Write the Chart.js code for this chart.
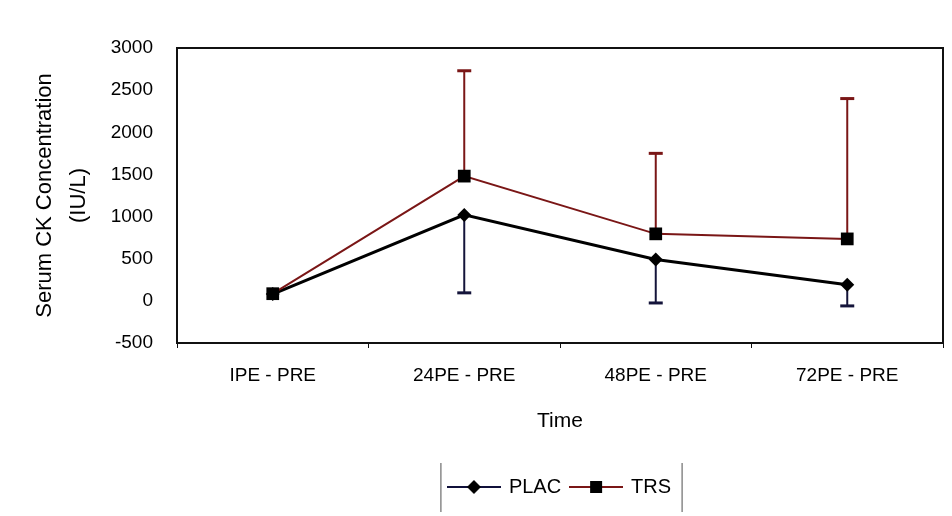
<!DOCTYPE html>
<html>
<head>
<meta charset="utf-8">
<script src="https://cdn.jsdelivr.net/npm/chart.js@4.4.0/dist/chart.umd.min.js"></script>
<style>
  html, body { margin: 0; padding: 0; background: #fff; }
  #caixa { width: 952px; height: 516px; }
</style>
</head>
<body>
<div id="caixa"><canvas id="graficoCK"></canvas></div>
<script>
// dados do CK sérico (média e desvio) por momento
const tempos = ["IPE - PRE", "24PE - PRE", "48PE - PRE", "72PE - PRE"];
const placMedia = [80, 1020, 490, 190];
const placDesvio = [0, 925, 515, 250];
const trsMedia = [85, 1480, 795, 735];
const trsDesvio = [0, 1250, 955, 1665];
const yTicks = [-500, 0, 500, 1000, 1500, 2000, 2500, 3000];

const fonte = "'Liberation Sans', Arial, sans-serif";
const corPlac = '#000000';
const corTrs = '#7a1616';

// icone da legenda: linha com o marcador no meio
function iconeLegenda(corLinha, estilo) {
  const c = document.createElement('canvas');
  c.width = 54; c.height = 16;
  const g = c.getContext('2d');
  g.strokeStyle = corLinha; g.lineWidth = 2;
  g.beginPath(); g.moveTo(0, 8); g.lineTo(54, 8); g.stroke();
  g.fillStyle = '#000';
  if (estilo === 'diamante') {
    g.beginPath(); g.moveTo(27, 1); g.lineTo(34, 8); g.lineTo(27, 15); g.lineTo(20, 8); g.closePath(); g.fill();
  } else {
    g.fillRect(21, 2, 12, 12);
  }
  return c;
}
const icones = [iconeLegenda('#10103a', 'diamante'), iconeLegenda(corTrs, 'quadrado')];

// barras de erro: TRS para cima, PLAC para baixo
const barrasErro = {
  id: 'barrasErro',
  beforeDatasetsDraw(chart) {
    const ctx = chart.ctx, y = chart.scales.y;
    const series = [
      {ds: 0, media: placMedia, desvio: placDesvio, dir: -1, cor: '#14143a'},
      {ds: 1, media: trsMedia, desvio: trsDesvio, dir: 1, cor: corTrs}
    ];
    series.forEach(s => {
      chart.getDatasetMeta(s.ds).data.forEach((pt, i) => {
        if (!s.desvio[i]) return;
        const y0 = y.getPixelForValue(s.media[i]);
        const y1 = y.getPixelForValue(s.media[i] + s.dir * s.desvio[i]);
        ctx.save();
        ctx.strokeStyle = s.cor;
        ctx.lineWidth = 2;
        ctx.beginPath(); ctx.moveTo(pt.x, y0); ctx.lineTo(pt.x, y1); ctx.stroke();
        ctx.lineWidth = 3;
        ctx.beginPath(); ctx.moveTo(pt.x - 7, y1); ctx.lineTo(pt.x + 7, y1); ctx.stroke();
        ctx.restore();
      });
    });
  }
};

// moldura da area do grafico e barras laterais da legenda
const moldura = {
  id: 'moldura',
  beforeDatasetsDraw(chart) {
    const a = chart.chartArea, ctx = chart.ctx;
    ctx.save();
    ctx.strokeStyle = '#111'; ctx.lineWidth = 2;
    ctx.strokeRect(a.left, a.top, a.right - a.left, a.bottom - a.top);
    ctx.restore();
  },
  afterDraw(chart) {
    const caixas = chart.legend.legendHitBoxes;
    if (!caixas || !caixas.length) return;
    const esq = Math.min(...caixas.map(b => b.left)) - 8;
    const dir = Math.max(...caixas.map(b => b.left + b.width)) + 11;
    const meio = caixas[0].top + caixas[0].height / 2;
    const ctx = chart.ctx;
    ctx.save();
    ctx.strokeStyle = '#8a8a8a'; ctx.lineWidth = 1.5;
    ctx.beginPath();
    ctx.moveTo(esq, meio - 24); ctx.lineTo(esq, meio + 25);
    ctx.moveTo(dir, meio - 24); ctx.lineTo(dir, meio + 25);
    ctx.stroke();
    ctx.restore();
  }
};

const config = {
  type: 'line',
  data: {
    labels: tempos,
    datasets: [
      {
        label: 'PLAC',
        data: placMedia,
        borderColor: corPlac,
        borderWidth: 3,
        pointStyle: 'rectRot',
        pointRadius: 7,
        pointBackgroundColor: '#000',
        pointBorderColor: '#000',
        pointBorderWidth: 0,
        tension: 0,
        order: 1
      },
      {
        label: 'TRS',
        data: trsMedia,
        borderColor: corTrs,
        borderWidth: 2,
        pointStyle: 'rect',
        pointRadius: 9,
        pointBackgroundColor: '#000',
        pointBorderColor: '#000',
        pointBorderWidth: 0,
        tension: 0,
        order: 0
      }
    ]
  },
  options: {
    responsive: true,
    maintainAspectRatio: false,
    animation: false,
    layout: { padding: { left: 0, right: -3, top: 48, bottom: 9 } },
    plugins: {
      tooltip: { enabled: false },
      legend: {
        position: 'bottom',
        fullSize: false,
        labels: {
          usePointStyle: true,
          pointStyleWidth: 50,
          padding: 10,
          color: '#000',
          font: { family: fonte, size: 20 },
          generateLabels: chart => chart.data.datasets.map((ds, i) => ({
            text: ds.label,
            pointStyle: icones[i],
            fillStyle: 'transparent',
            strokeStyle: 'transparent',
            lineWidth: 0,
            datasetIndex: i,
            fontColor: '#000'
          }))
        }
      }
    },
    scales: {
      x: {
        offset: true,
        grid: { display: true, drawOnChartArea: false, offset: true, drawTicks: true, tickLength: 5, color: '#111' },
        border: { display: false },
        ticks: { color: '#000', padding: 16, font: { family: "'Liberation Sans Narrow', 'Liberation Sans', Arial, sans-serif", size: 19 } },
        title: { display: true, text: 'Time', color: '#000', font: { family: fonte, size: 21 }, padding: { top: 0, bottom: 33 } },
        afterFit: s => { s.height = 124; }
      },
      y: {
        min: yTicks[0],
        max: yTicks[yTicks.length - 1],
        afterBuildTicks: s => { s.ticks = yTicks.map(v => ({ value: v })); },
        grid: { display: false },
        border: { display: false },
        ticks: { color: '#000', padding: 16, font: { family: fonte, size: 19 }, callback: v => String(v) },
        title: {
          display: true,
          text: ['Serum CK Concentration', '(IU/L)'],
          color: '#000',
          font: { family: fonte, size: 22, lineHeight: 34 / 22 },
          padding: { top: 28, bottom: 0 }
        },
        afterFit: s => { s.width = 177; }
      }
    }
  },
  plugins: [barrasErro, moldura]
};

var graficoCK = new Chart(document.getElementById('graficoCK'), config);
</script>
</body>
</html>
